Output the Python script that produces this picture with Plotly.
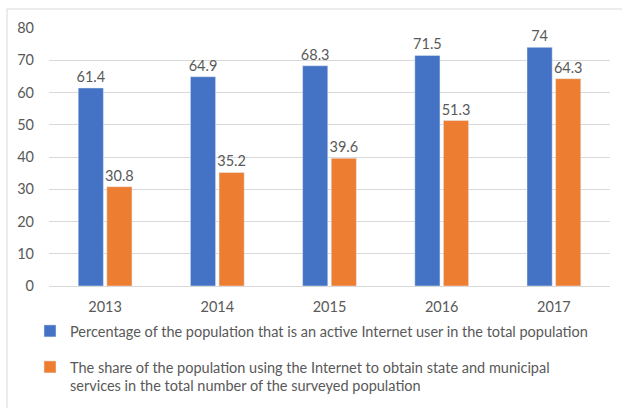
import plotly.graph_objects as go

years = ["2013", "2014", "2015", "2016", "2017"]
active_users = [61.4, 64.9, 68.3, 71.5, 74]
gov_services = [30.8, 35.2, 39.6, 51.3, 64.3]
name_active = "Percentage of the population that is an active Internet user in the total population"
name_gov = ("The share of the population using the Internet to obtain state and municipal<br>"
            "services in the total number of the surveyed population")

FONT = "Lato"
W, H = 622, 408
L, R, T, B = 49, 12, 28, 122
pw, ph = W - L - R, H - T - B

fig = go.Figure()
fig.add_trace(go.Bar(x=years, y=active_users, name=name_active, marker_color="#4472C4",
                     text=[f"{v:g}" for v in active_users], textposition="outside",
                     constraintext="none",
                     textfont=dict(size=14.5, color="#595959", family=FONT),
                     cliponaxis=False, legend="legend"))
fig.add_trace(go.Bar(x=years, y=gov_services, name=name_gov, marker_color="#ED7D31",
                     text=[f"{v:g}" for v in gov_services], textposition="outside",
                     constraintext="none",
                     textfont=dict(size=14.5, color="#595959", family=FONT),
                     cliponaxis=False, legend="legend2"))

def px_x(x):
    return (x - L) / pw

def px_y(y):
    return (H - B - y) / ph

fig.add_shape(type="rect", xref="paper", yref="paper",
              x0=px_x(7), x1=px_x(640), y0=px_y(9), y1=px_y(430),
              line=dict(color="#D9D9D9", width=1), fillcolor="rgba(0,0,0,0)", layer="below")

legend_style = dict(orientation="v", xanchor="left", yanchor="top",
                    xref="container", yref="container", valign="top",
                    font=dict(size=14.5, color="#595959", family=FONT),
                    bgcolor="rgba(0,0,0,0)")

fig.update_layout(
    width=W, height=H,
    margin=dict(l=L, r=R, t=T, b=B, autoexpand=False),
    paper_bgcolor="white", plot_bgcolor="white",
    font=dict(family=FONT, size=14.5, color="#595959"),
    barmode="group", bargap=0.49, bargroupgap=0.12,
    showlegend=True,
    legend=dict(x=30 / W, y=1 - 315 / H, **legend_style),
    legend2=dict(x=30 / W, y=1 - 351 / H, **legend_style),
    xaxis=dict(showgrid=False, showline=False, ticks="", ticklabelstandoff=10,
               tickfont=dict(size=14.5, color="#595959")),
    yaxis=dict(range=[0, 80], dtick=10, showgrid=True, gridcolor="#D9D9D9", gridwidth=1,
               zeroline=True, zerolinecolor="#D9D9D9", zerolinewidth=1, showline=False,
               ticks="", ticklabelstandoff=14, tickfont=dict(size=14.5, color="#595959")),
)

fig.write_html("out.html")
